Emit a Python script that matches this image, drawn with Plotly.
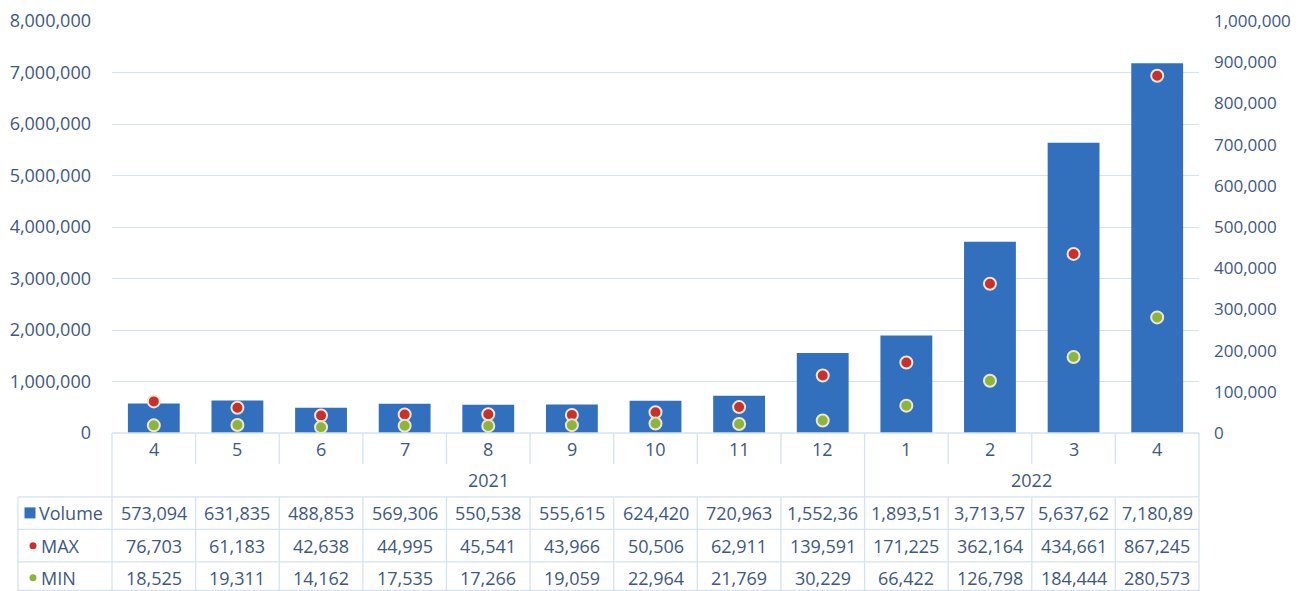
import plotly.graph_objects as go

months = ["4", "5", "6", "7", "8", "9", "10", "11", "12", "1", "2", "3", "4"]
years = ["2021", "2022"]
year_spans = [(0, 8), (9, 12)]
volume = [573094, 631835, 488853, 569306, 550538, 555615, 624420, 720963,
          1552360, 1893510, 3713570, 5637620, 7180890]
max_vals = [76703, 61183, 42638, 44995, 45541, 43966, 50506, 62911,
            139591, 171225, 362164, 434661, 867245]
min_vals = [18525, 19311, 14162, 17535, 17266, 19059, 22964, 21769,
            30229, 66422, 126798, 184444, 280573]

OFF = 8  # page body margin; target pixel coords are shifted by this
W, H = 1302 - OFF, 591 - OFF
L, T = 112 - OFF, 20.5 - OFF
PLOT_R = 1199 - OFF
Y0 = 433 - OFF
R = W - PLOT_R
B = H - Y0
PW, PH = W - L - R, H - T - B

TXT = "#3D5886"
GRID = "#D5E2F4"
BAR = "#3270BE"
RED = "#C8312B"
GREEN = "#8DB43B"
FONT = "Open Sans"
FS = 18

def py(p):
    return (Y0 - (p - OFF)) / PH

def px(p):
    return ((p - OFF) - L) / PW

n = len(months)
xs = list(range(n))

fig = go.Figure()
fig.add_trace(go.Bar(x=xs, y=volume, name="Volume", marker=dict(color=BAR, line=dict(width=0)),
                     width=0.62, yaxis="y"))
fig.add_trace(go.Scatter(x=xs, y=max_vals, name="MAX", mode="markers", yaxis="y2",
                         marker=dict(color=RED, size=12, line=dict(color="#F0E6D6", width=2))))
fig.add_trace(go.Scatter(x=xs, y=min_vals, name="MIN", mode="markers", yaxis="y2",
                         marker=dict(color=GREEN, size=12, line=dict(color="#F0E6D6", width=2))))

shapes = []
ann = []

def hline(p, x0, x1):
    shapes.append(dict(type="line", xref="paper", yref="paper", x0=px(x0), x1=px(x1),
                       y0=py(p), y1=py(p), line=dict(color=GRID, width=1.3)))

def vline(xp, p0, p1):
    shapes.append(dict(type="line", xref="paper", yref="paper", x0=px(xp), x1=px(xp),
                       y0=py(p0), y1=py(p1), line=dict(color=GRID, width=1.3)))

cw = PW / n
def bx(i):  # target pixel x of boundary left of category i
    return 112 + i * cw

ZERO = 433
RIGHT = 1199
# axis line / month row
hline(ZERO, 112, RIGHT)
for i in range(1, n):
    if i == 9:
        vline(bx(i), ZERO, 497)
    else:
        vline(bx(i), ZERO, 464)
vline(112, ZERO, 591)
vline(RIGHT, ZERO, 591)

# table lines
for p in [497, 529.5, 562, 590.5]:
    hline(p, 18, RIGHT)
vline(18, 497, 591)
for i in range(1, n):
    vline(bx(i), 497, 591)

# month labels
for i, m in enumerate(months):
    ann.append(dict(x=i, y=py(449), xref="x", yref="paper", text=m, showarrow=False,
                    font=dict(size=FS, color=TXT, family=FONT), yanchor="middle"))
# year labels
for yname, (a, b) in zip(years, year_spans):
    ann.append(dict(x=(a + b) / 2, y=py(480), xref="x", yref="paper", text=yname, showarrow=False,
                    font=dict(size=FS, color=TXT, family=FONT), yanchor="middle"))

def fmt(v):
    s = f"{v:,}"
    return s[:8] if len(s) > 8 else s

rows = [("Volume", volume, 513, "rect", BAR, 11, 37), ("MAX", max_vals, 546, "circle", RED, 7, 39),
        ("MIN", min_vals, 578, "circle", GREEN, 7, 39)]
for name, vals, yp, shp, col, sz, tx in rows:
    for i, v in enumerate(vals):
        ann.append(dict(x=i, y=py(yp), xref="x", yref="paper", text=fmt(v), showarrow=False,
                        font=dict(size=FS, color=TXT, family=FONT), yanchor="middle"))
    ann.append(dict(x=px(tx), y=py(yp), xref="paper", yref="paper", xanchor="left", yanchor="middle",
                    text=name, showarrow=False, font=dict(size=FS, color=TXT, family=FONT)))
    cx = 30 if shp == "rect" else 33
    h = sz / 2
    shapes.append(dict(type=shp, xref="paper", yref="paper", xsizemode="pixel", ysizemode="pixel",
                       xanchor=px(cx), yanchor=py(yp), x0=-h, x1=h, y0=-h, y1=h,
                       fillcolor=col, line=dict(width=0)))

fig.update_layout(
    width=W, height=H, margin=dict(l=L, r=R, t=T, b=B, pad=0, autoexpand=False),
    paper_bgcolor="white", plot_bgcolor="white",
    showlegend=False,
    xaxis=dict(range=[-0.5, n - 0.5], showticklabels=False, showgrid=False, zeroline=False,
               showline=False, fixedrange=True, automargin=False),
    yaxis=dict(range=[0, 8000000], dtick=1000000, tickformat=",", showgrid=True, gridcolor=GRID,
               gridwidth=1.3, zeroline=False, showline=False, ticks="", ticklabelstandoff=20,
               automargin=False, tickfont=dict(size=FS, color=TXT, family=FONT)),
    yaxis2=dict(range=[0, 1000000], dtick=100000, tickformat=",", overlaying="y", side="right",
                showgrid=False, zeroline=False, showline=False, ticks="", ticklabelstandoff=14,
                automargin=False, tickfont=dict(size=17, color=TXT, family=FONT)),
    shapes=shapes, annotations=ann,
)

fig.write_html("out.html")
